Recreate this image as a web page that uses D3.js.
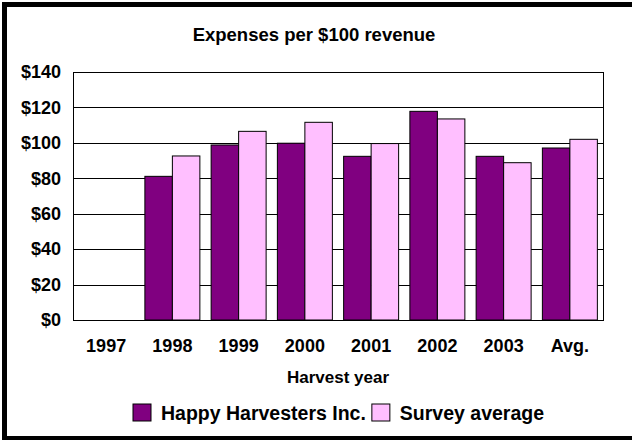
<!DOCTYPE html>
<html>
<head>
<meta charset="utf-8">
<script src="https://cdn.jsdelivr.net/npm/d3@7"></script>
<style>
  html, body { margin: 0; padding: 0; background: #fff; }
  svg { display: block; font-family: "Liberation Sans", Arial, sans-serif; font-weight: bold; }
</style>
</head>
<body>
<svg id="chart" width="632" height="440"></svg>
<script>
// Expenses per $100 of revenue, by harvest year
const years = ["1997", "1998", "1999", "2000", "2001", "2002", "2003", "Avg."];
const happyHarvesters = [null, 81.1, 98.8, 99.8, 92.4, 117.8, 92.4, 97.1];
const surveyAverage   = [null, 92.6, 106.5, 111.6, 99.6, 113.5, 88.8, 102.0];
const yTicks = [0, 20, 40, 60, 80, 100, 120, 140];
const seriesNames = ["Happy Harvesters Inc.", "Survey average"];
const seriesColors = ["#800080", "#ffbfff"];

const svg = d3.select("#chart");
const plot = { left: 73, right: 603, top: 72, bottom: 320 };

// outer frame
svg.append("rect")
  .attr("x", 4.5).attr("y", 4.5)
  .attr("width", 700).attr("height", 434)
  .attr("fill", "none").attr("stroke", "#000").attr("stroke-width", 5);

// title
svg.append("text")
  .attr("x", 314).attr("y", 41)
  .attr("text-anchor", "middle")
  .attr("font-size", 18.5)
  .text("Expenses per $100 revenue");

const x = d3.scaleBand().domain(years)
  .range([plot.left, plot.right])
  .paddingInner(0.17).paddingOuter(0.085);
const y = d3.scaleLinear().domain([0, 140]).range([plot.bottom, plot.top]);
const xs = d3.scaleBand().domain([0, 1]).range([0, x.bandwidth()]);

// gridlines
svg.append("g").selectAll("line").data(yTicks).join("line")
  .attr("x1", plot.left).attr("x2", plot.right)
  .attr("y1", d => Math.round(y(d)) + 0.5).attr("y2", d => Math.round(y(d)) + 0.5)
  .attr("stroke", "#000").attr("stroke-width", 1);

// plot frame
svg.append("rect")
  .attr("x", plot.left + 0.5).attr("y", plot.top + 0.5)
  .attr("width", plot.right - plot.left).attr("height", plot.bottom - plot.top)
  .attr("fill", "none").attr("stroke", "#000").attr("stroke-width", 1);

// bars
const series = [happyHarvesters, surveyAverage];
series.forEach((vals, si) => {
  svg.append("g").selectAll("rect")
    .data(years.map((yr, i) => ({ yr, v: vals[i] })).filter(d => d.v != null))
    .join("rect")
    .attr("x", d => x(d.yr) + xs(si))
    .attr("width", xs.bandwidth())
    .attr("y", d => y(d.v))
    .attr("height", d => y(0) - y(d.v))
    .attr("fill", seriesColors[si])
    .attr("stroke", "#000").attr("stroke-width", 1);
});

// axes
const yAxis = d3.axisLeft(y).tickValues(yTicks).tickSize(0).tickPadding(12)
  .tickFormat(d => "$" + d);
const yg = svg.append("g").attr("transform", `translate(${plot.left},0)`).call(yAxis);
yg.select(".domain").remove();
yg.selectAll("text").attr("font-size", 18).attr("font-weight", "bold")
  .attr("font-family", "Liberation Sans, Arial, sans-serif").attr("fill", "#000");

const xAxis = d3.axisBottom(x).tickSize(0).tickPadding(19);
const xg = svg.append("g").attr("transform", `translate(0,${plot.bottom})`).call(xAxis);
xg.select(".domain").remove();
xg.selectAll("text").attr("font-size", 18).attr("font-weight", "bold")
  .attr("font-family", "Liberation Sans, Arial, sans-serif").attr("fill", "#000");

// axis title
svg.append("text")
  .attr("x", (plot.left + plot.right) / 2).attr("y", 383)
  .attr("text-anchor", "middle").attr("font-size", 17)
  .text("Harvest year");

// legend
const legend = svg.append("g");
const items = legend.selectAll("g").data(seriesNames).join("g");
items.append("rect")
  .attr("width", 18).attr("height", 17).attr("y", 404)
  .attr("fill", (d, i) => seriesColors[i])
  .attr("stroke", "#000").attr("stroke-width", 1);
items.append("text")
  .attr("x", 28).attr("y", 420)
  .attr("font-size", 19.5)
  .text(d => d);
let cx = 133;
items.each(function () {
  const g = d3.select(this);
  g.attr("transform", `translate(${cx},0)`);
  cx += 28 + g.select("text").node().getComputedTextLength() + 6;
});
</script>
</body>
</html>
